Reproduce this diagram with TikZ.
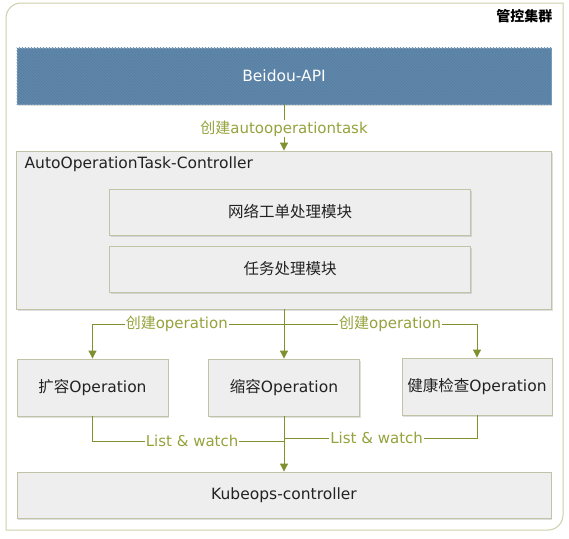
\documentclass[tikz,border=0pt]{standalone}
\usepackage{fontspec}
\setmainfont{DejaVu Sans}
\newfontfamily\cjk{Noto Sans CJK SC}
\usetikzlibrary{arrows.meta,patterns,shadows}
\definecolor{lineg}{HTML}{7F912E}
\definecolor{labg}{HTML}{96A33C}
\definecolor{boxfill}{HTML}{EEEEEE}
\definecolor{boxline}{HTML}{C2C2A6}
\definecolor{framec}{HTML}{CDCFA8}
\definecolor{apiblue}{HTML}{5E87AB}
\definecolor{apistripe}{HTML}{587E9F}
\definecolor{txt}{HTML}{222222}
\begin{document}
\begin{tikzpicture}[x=1pt,y=-1pt,
  font=\fontsize{15.5}{18}\selectfont,
  box/.style={draw=boxline, line width=0.9pt, fill=boxfill, text=txt,
    drop shadow={shadow xshift=1.2pt, shadow yshift=-1.5pt, opacity=0.25, fill=gray},
    inner sep=0pt},
  conn/.style={draw=lineg, line width=1pt},
  arr/.style={conn, -{Triangle[length=8pt,width=8pt]}},
  lab/.style={fill=white, text=labg, inner sep=1pt, font=\fontsize{15}{17}\selectfont}]
\useasboundingbox (0,0) rectangle (569,538);
% outer frame
\draw[framec, line width=1pt, fill=white]
  (6,530) -- (6,18) .. controls (6,9.72) and (12.72,3) .. (21,3) -- (563,3)
  -- (563,515) .. controls (563,523.28) and (556.28,530) .. (548,530) -- cycle;
\node[anchor=east, font=\cjk\bfseries\fontsize{14}{16}\selectfont, text=black] (title) at (556,16) {管控集群};
% Beidou-API
\node[box, draw=apiblue!80!white, fill=apiblue, text=white, minimum width=534pt, minimum height=56pt] (api) at (284,76) {};
\fill[pattern=north west lines, pattern color=apistripe] (api.north west) rectangle (api.south east);
\node[text=white] (apitext) at (api.center) {Beidou-API};
% controller
\node[box, minimum width=535pt, minimum height=158pt] (ctrl) at (284,230) {};
\node[anchor=west, text=txt] (ctrllab) at (ctrl.north west) [yshift=-14pt, xshift=5pt] {AutoOperationTask-Controller};
\node[box, minimum width=361pt, minimum height=46pt] (m1) at (290,212) {\cjk 网络工单处理模块};
\node[box, minimum width=361pt, minimum height=46pt] (m2) at (290,269) {\cjk 任务处理模块};
% operations
\node[box, minimum width=151pt, minimum height=57pt] (op1) at (92.5,387.5) {{\cjk 扩容}Operation};
\node[box, minimum width=151pt, minimum height=57pt] (op2) at (284,387.5) {{\cjk 缩容}Operation};
\node[box, minimum width=150pt, minimum height=57pt] (op3) at (477,386.5) {{\cjk 健康检查}Operation};
% kubeops
\node[box, minimum width=534pt, minimum height=46pt] (kube) at (284,495) {Kubeops-controller};
% connectors
\draw[arr] (api.south) -- (ctrl.north) node[lab, midway, yshift=-1pt] {{\cjk 创建}autooperationtask};
\coordinate (j1) at (284,324);
\draw[arr] (ctrl.south) -- (op2.north);
\draw[arr] (j1) -| (op1.north) node[lab, pos=0.28] {{\cjk 创建}operation};
\draw[arr] (j1) -| (op3.north) node[lab, pos=0.275] {{\cjk 创建}operation};
\coordinate (j2) at (284,441);
\coordinate (j3) at (284,438);
\draw[conn] (op1.south) |- (j2) node[lab, pos=0.76] {List \& watch};
\draw[conn] (op3.south) |- (j3) node[lab, pos=0.76] {List \& watch};
\draw[arr] (op2.south) -- (kube.north);
\end{tikzpicture}
\end{document}
